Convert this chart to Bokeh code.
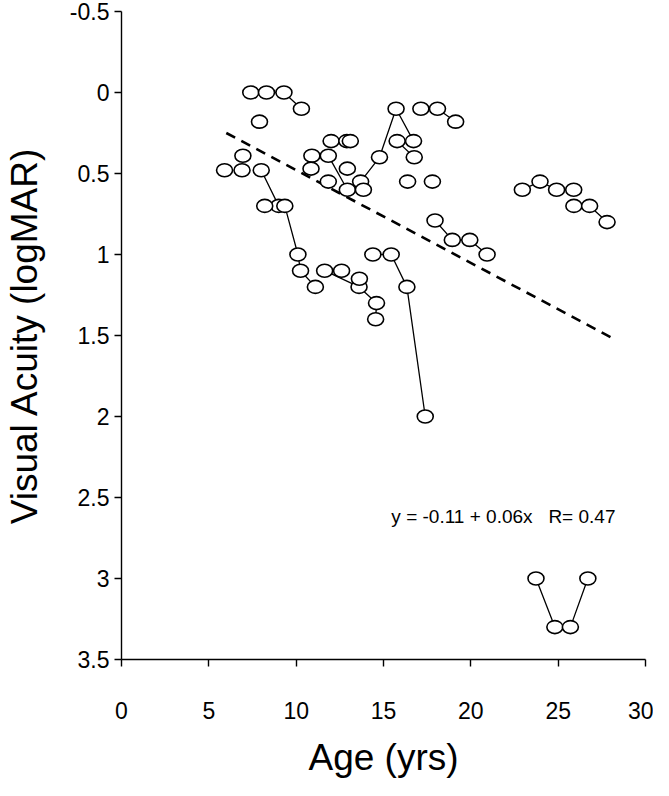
from bokeh.plotting import figure
from bokeh.models import Range1d, Label, FixedTicker
from bokeh.embed import file_html
from bokeh.resources import INLINE

# Age (years), visual acuity (logMAR) and patient id for each measurement
age = [7.4, 8.3, 9.3, 10.3,
       7.9,
       5.9,
       6.9,
       6.95,
       8.0, 9.0, 9.35, 10.1, 10.25, 11.1,
       8.2,
       12.0, 12.9, 13.1,
       10.9,
       11.84, 12.93,
       10.85,
       11.84,
       12.93,
       13.69, 14.77, 15.72, 16.72,
       13.85,
       15.78, 16.76,
       16.38,
       17.14, 18.09, 19.13,
       17.8,
       17.95, 18.94, 19.94, 20.93,
       22.95, 23.96, 24.91, 25.89,
       25.9, 26.8, 27.8,
       14.39, 15.44, 16.34, 17.39,
       11.63, 13.6, 14.6, 14.55,
       12.6,
       13.62,
       23.73, 24.81, 25.7, 26.7]
acuity = [0.0, 0.0, 0.0, 0.1,
          0.18,
          0.48,
          0.48,
          0.39,
          0.48, 0.7, 0.7, 1.0, 1.1, 1.2,
          0.7,
          0.3, 0.3, 0.3,
          0.39,
          0.39, 0.6,
          0.47,
          0.55,
          0.47,
          0.55, 0.4, 0.1, 0.3,
          0.6,
          0.3, 0.4,
          0.55,
          0.1, 0.1, 0.18,
          0.55,
          0.79, 0.91, 0.91, 1.0,
          0.6, 0.55, 0.6, 0.6,
          0.7, 0.7, 0.8,
          1.0, 1.0, 1.2, 2.0,
          1.1, 1.2, 1.3, 1.4,
          1.1,
          1.15,
          3.0, 3.3, 3.3, 3.0]
patient = [1, 1, 1, 1,
           2,
           3,
           4,
           5,
           6, 6, 6, 6, 6, 6,
           7,
           8, 8, 8,
           9,
           10, 10,
           11,
           12,
           13,
           14, 14, 14, 14,
           15,
           16, 16,
           17,
           18, 18, 18,
           19,
           20, 20, 20, 20,
           21, 21, 21, 21,
           22, 22, 22,
           23, 23, 23, 23,
           24, 24, 24, 24,
           25,
           26,
           27, 27, 27, 27]

# Regression line
reg_age = [6.0, 28.0]
reg_acuity = [0.25, 1.51]
eq_text = "y = -0.11 + 0.06x\u00a0\u00a0\u00a0R= 0.47"
eq_pos = (15.45, 2.62)

x_ticks = [0, 5, 10, 15, 20, 25, 30]
y_ticks = [-0.5, 0.0, 0.5, 1.0, 1.5, 2.0, 2.5, 3.0, 3.5]
y_tick_labels = ["-0.5", "0", "0.5", "1", "1.5", "2", "2.5", "3", "3.5"]

FONT = "Liberation Sans"

p = figure(width=653, height=780, output_backend="svg", toolbar_location=None,
           x_range=Range1d(0, 30), y_range=Range1d(3.5, -0.5),
           min_border_left=117, min_border_right=8, min_border_top=11,
           min_border_bottom=120)
p.outline_line_color = None
p.xgrid.visible = False
p.ygrid.visible = False
p.background_fill_color = "white"

# connecting lines per patient
groups = {}
for a, v, pid in zip(age, acuity, patient):
    groups.setdefault(pid, ([], []))
    groups[pid][0].append(a)
    groups[pid][1].append(v)
for pid, (ga, gv) in groups.items():
    if len(ga) > 1:
        p.line(ga, gv, line_color="black", line_width=1.3)

p.line(reg_age, reg_acuity, line_color="black", line_width=2.6, line_dash="10 7")

p.ellipse(x=age, y=acuity, width=16, height=13, width_units="screen",
          height_units="screen", fill_color="white", line_color="black",
          line_width=1.6)

p.add_layout(Label(x=eq_pos[0], y=eq_pos[1], text=eq_text, text_font=FONT,
                   text_font_size="19px", text_baseline="alphabetic",
                   text_color="black"))

for ax in (p.xaxis[0], p.yaxis[0]):
    ax.axis_line_width = 1.4
    ax.axis_line_color = "black"
    ax.major_tick_line_color = "black"
    ax.major_tick_line_width = 1.4
    ax.major_tick_out = 7
    ax.major_tick_in = 0
    ax.minor_tick_line_color = None
    ax.major_label_text_font = FONT
    ax.major_label_text_font_size = "23px"
    ax.major_label_text_color = "black"
    ax.axis_label_text_font = FONT
    ax.axis_label_text_font_style = "normal"
    ax.axis_label_text_color = "black"

p.xaxis.ticker = FixedTicker(ticks=x_ticks)
p.xaxis.axis_label = "Age (yrs)"
p.xaxis.axis_label_text_font_size = "37px"
p.xaxis.major_label_standoff = 35
p.xaxis.axis_label_standoff = 15

p.yaxis.ticker = FixedTicker(ticks=y_ticks)
p.yaxis.major_label_overrides = {t: l for t, l in zip(y_ticks, y_tick_labels)}
p.yaxis.axis_label = "Visual Acuity (logMAR)"
p.yaxis.axis_label_text_font_size = "37px"
p.yaxis.major_label_standoff = 5
p.yaxis.axis_label_standoff = 22

open("out.html", "w").write(file_html(p, INLINE))
